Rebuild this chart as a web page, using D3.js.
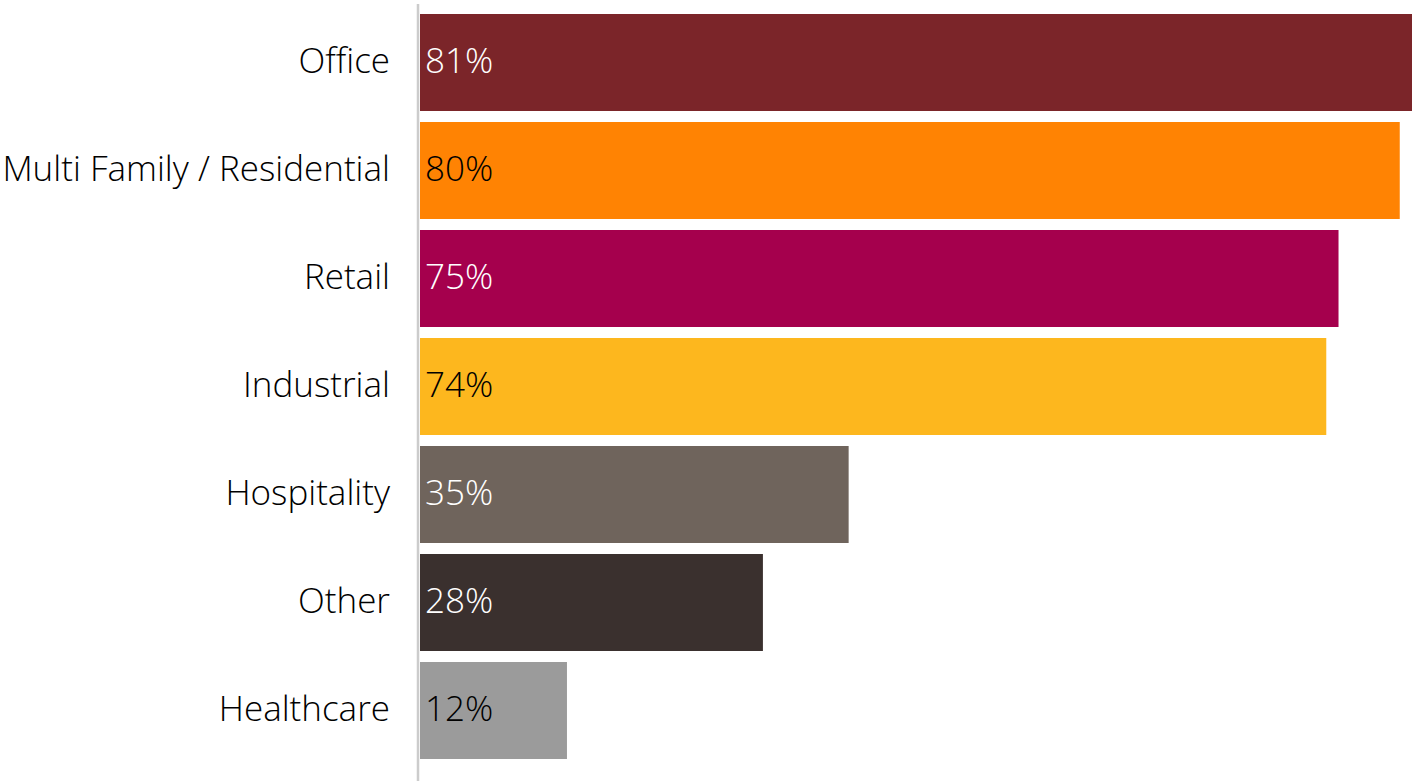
<!DOCTYPE html>
<html>
<head>
<meta charset="utf-8">
<script src="https://cdn.jsdelivr.net/npm/d3@7"></script>
<style>
  html, body { margin: 0; padding: 0; background: #fff; }
  svg { display: block; }
  text { font-family: "Open Sans", Lato, sans-serif; font-weight: 300; }
</style>
</head>
<body>
<svg id="chart" width="1412" height="781"></svg>
<script>
// Share of respondents by property sector
const categories = ["Office", "Multi Family / Residential", "Retail", "Industrial", "Hospitality", "Other", "Healthcare"];
const values = [81, 80, 75, 74, 35, 28, 12];
const barColors = ["#7b2529", "#ff8303", "#a5004d", "#fdb71e", "#6f645c", "#3a302e", "#9b9b9b"];
const labelColors = ["#ffffff", "#000000", "#ffffff", "#000000", "#ffffff", "#ffffff", "#000000"];

const svg = d3.select("#chart");
const W = 1412, H = 781;
const x0 = 420;
const fontSize = 35;
const baselineShift = 10.5;

const x = d3.scaleLinear().domain([0, 81]).range([x0, W]);
const y = d3.scaleBand()
  .domain(categories)
  .range([8.5, 764.5])
  .paddingInner(11 / 108)
  .paddingOuter(11 / 216);

// bars
svg.append("g").selectAll("rect")
  .data(categories)
  .join("rect")
  .attr("x", x(0))
  .attr("y", d => y(d))
  .attr("width", (d, i) => x(values[i]) - x(0))
  .attr("height", y.bandwidth())
  .attr("fill", (d, i) => barColors[i]);

// value labels inside bars
svg.append("g").selectAll("text")
  .data(categories)
  .join("text")
  .attr("x", x(0) + 5)
  .attr("y", d => y(d) + y.bandwidth() / 2 + baselineShift)
  .attr("font-size", fontSize)
  .attr("fill", (d, i) => labelColors[i])
  .text((d, i) => values[i] + "%");

// category axis
const axis = svg.append("g")
  .attr("transform", `translate(${x0 - 2},0)`)
  .call(d3.axisLeft(y).tickSize(0).tickPadding(28));
axis.select(".domain").remove();
axis.selectAll("text")
  .attr("font-size", fontSize)
  .attr("fill", "#000")
  .attr("dy", null)
  .attr("dominant-baseline", "auto")
  .attr("transform", `translate(0,${baselineShift})`);

svg.append("line")
  .attr("x1", x0 - 2).attr("x2", x0 - 2)
  .attr("y1", 4).attr("y2", H)
  .attr("stroke", "#cccccc")
  .attr("stroke-width", 2.5);
</script>
</body>
</html>
